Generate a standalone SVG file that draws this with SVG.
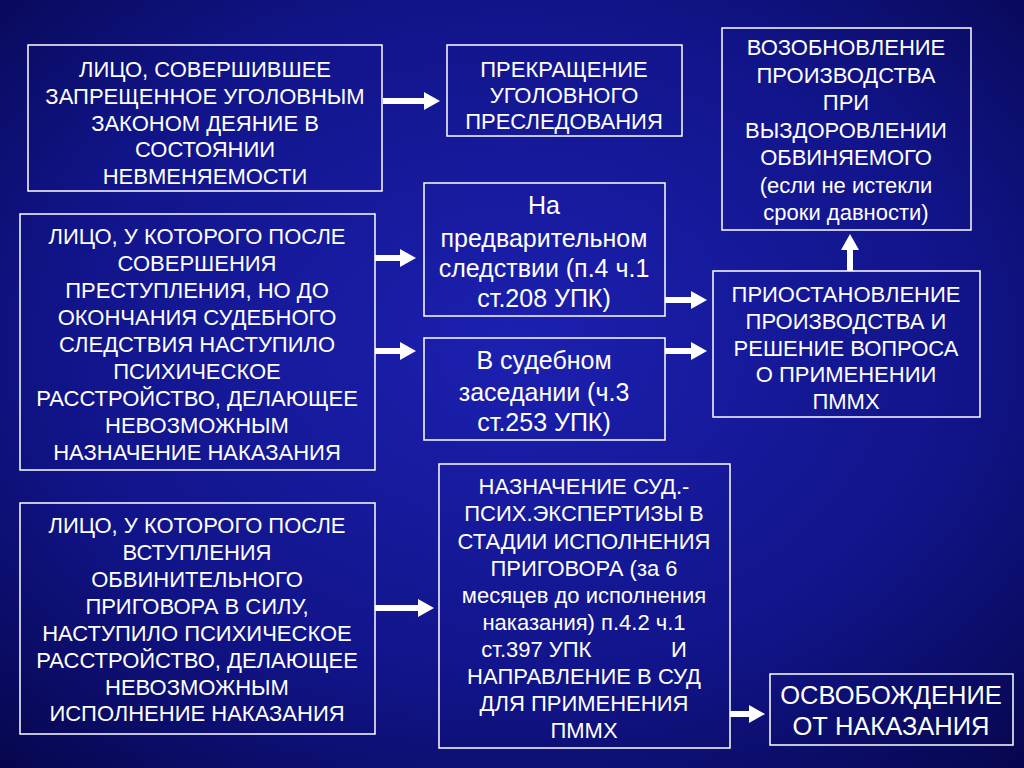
<svg xmlns="http://www.w3.org/2000/svg" width="1024" height="768" viewBox="0 0 1024 768">
<defs>
<radialGradient id="bg" cx="50%" cy="45%" r="75%">
<stop offset="0" stop-color="#1c20b0"/><stop offset="0.6" stop-color="#111488"/><stop offset="1" stop-color="#06064c"/>
</radialGradient>
<marker id="ah" markerUnits="userSpaceOnUse" markerWidth="16" markerHeight="18" refX="2" refY="9" orient="auto"><path d="M0,0 L16,9 L0,18 Z" fill="#fff"/></marker>
<style>
rect.b{fill:none;stroke:#fff;stroke-width:1.5}
text{font-family:"Liberation Sans",Arial,sans-serif;fill:#fff;font-size:22px;text-anchor:middle}
.m{font-size:25px}.l{font-size:25.5px}
.c line{stroke:#fff;stroke-width:6}
</style>
</defs>
<rect width="1024" height="768" fill="url(#bg)"/>
<g id="n1"><rect class="b" x="28" y="45" width="354" height="146"/>
<text x="205" y="77">ЛИЦО, СОВЕРШИВШЕЕ</text><text x="205" y="104">ЗАПРЕЩЕННОЕ УГОЛОВНЫМ</text><text x="205" y="131">ЗАКОНОМ ДЕЯНИЕ В</text><text x="205" y="157">СОСТОЯНИИ</text><text x="205" y="184">НЕВМЕНЯЕМОСТИ</text></g>
<g id="n2"><rect class="b" x="447" y="45" width="235" height="91"/>
<text x="564" y="77">ПРЕКРАЩЕНИЕ</text><text x="564" y="103">УГОЛОВНОГО</text><text x="564" y="129">ПРЕСЛЕДОВАНИЯ</text></g>
<g id="n3"><rect class="b" x="722" y="28" width="249" height="202"/>
<text x="846" y="55">ВОЗОБНОВЛЕНИЕ</text><text x="846" y="83">ПРОИЗВОДСТВА</text><text x="846" y="110">ПРИ</text><text x="846" y="138">ВЫЗДОРОВЛЕНИИ</text><text x="846" y="165">ОБВИНЯЕМОГО</text><text x="846" y="193">(если не истекли</text><text x="846" y="220">сроки давности)</text></g>
<g id="n4"><rect class="b" x="20" y="214" width="355" height="256"/>
<text x="197" y="244">ЛИЦО, У КОТОРОГО ПОСЛЕ</text><text x="197" y="271">СОВЕРШЕНИЯ</text><text x="197" y="298">ПРЕСТУПЛЕНИЯ, НО ДО</text><text x="197" y="325">ОКОНЧАНИЯ СУДЕБНОГО</text><text x="197" y="352">СЛЕДСТВИЯ НАСТУПИЛО</text><text x="197" y="379">ПСИХИЧЕСКОЕ</text><text x="197" y="406">РАССТРОЙСТВО, ДЕЛАЮЩЕЕ</text><text x="197" y="433">НЕВОЗМОЖНЫМ</text><text x="197" y="460">НАЗНАЧЕНИЕ НАКАЗАНИЯ</text></g>
<g id="n5"><rect class="b" x="424" y="183" width="241" height="133"/>
<text class="m" x="544" y="214">На</text><text class="m" x="544" y="247">предварительном</text><text class="m" x="544" y="277">следствии (п.4 ч.1</text><text class="m" x="544" y="307">ст.208 УПК)</text></g>
<g id="n6"><rect class="b" x="424" y="338" width="241" height="102"/>
<text class="m" x="544" y="369">В судебном</text><text class="m" x="544" y="401">заседании (ч.3</text><text class="m" x="544" y="431">ст.253 УПК)</text></g>
<g id="n7"><rect class="b" x="713" y="271" width="267" height="146"/>
<text x="846" y="302">ПРИОСТАНОВЛЕНИЕ</text><text x="846" y="329">ПРОИЗВОДСТВА И</text><text x="846" y="356">РЕШЕНИЕ ВОПРОСА</text><text x="846" y="382">О ПРИМЕНЕНИИ</text><text x="846" y="409">ПММХ</text></g>
<g id="n8"><rect class="b" x="20" y="503" width="355" height="231"/>
<text x="197" y="533">ЛИЦО, У КОТОРОГО ПОСЛЕ</text><text x="197" y="560">ВСТУПЛЕНИЯ</text><text x="197" y="587">ОБВИНИТЕЛЬНОГО</text><text x="197" y="614">ПРИГОВОРА В СИЛУ,</text><text x="197" y="641">НАСТУПИЛО ПСИХИЧЕСКОЕ</text><text x="197" y="668">РАССТРОЙСТВО, ДЕЛАЮЩЕЕ</text><text x="197" y="695">НЕВОЗМОЖНЫМ</text><text x="197" y="721">ИСПОЛНЕНИЕ НАКАЗАНИЯ</text></g>
<g id="n9"><rect class="b" x="439" y="464" width="291" height="284"/>
<text x="584" y="494">НАЗНАЧЕНИЕ СУД.-</text><text x="584" y="521">ПСИХ.ЭКСПЕРТИЗЫ  В</text><text x="584" y="549">СТАДИИ ИСПОЛНЕНИЯ</text><text x="584" y="576">ПРИГОВОРА (за 6</text><text x="584" y="603">месяцев до исполнения</text><text x="584" y="630">наказания) п.4.2 ч.1</text><text x="584" y="657" xml:space="preserve">ст.397 УПК             И</text><text x="584" y="684">НАПРАВЛЕНИЕ В СУД</text><text x="584" y="711">ДЛЯ ПРИМЕНЕНИЯ</text><text x="584" y="738">ПММХ</text></g>
<g id="n10"><rect class="b" x="770" y="674" width="243" height="71"/>
<text class="l" x="891" y="704">ОСВОБОЖДЕНИЕ</text><text class="l" x="891" y="735">ОТ НАКАЗАНИЯ</text></g>
<g class="c" id="connectors">
<line x1="383" y1="101" x2="426" y2="101" marker-end="url(#ah)"/>
<line x1="375" y1="258" x2="402" y2="258" marker-end="url(#ah)"/>
<line x1="375" y1="351" x2="402" y2="351" marker-end="url(#ah)"/>
<line x1="665" y1="300" x2="693" y2="300" marker-end="url(#ah)"/>
<line x1="665" y1="351" x2="693" y2="351" marker-end="url(#ah)"/>
<line x1="850" y1="271" x2="850" y2="248" marker-end="url(#ah)"/>
<line x1="375" y1="608" x2="420" y2="608" marker-end="url(#ah)"/>
<line x1="730" y1="714" x2="751" y2="714" marker-end="url(#ah)"/>
</g>
</svg>
